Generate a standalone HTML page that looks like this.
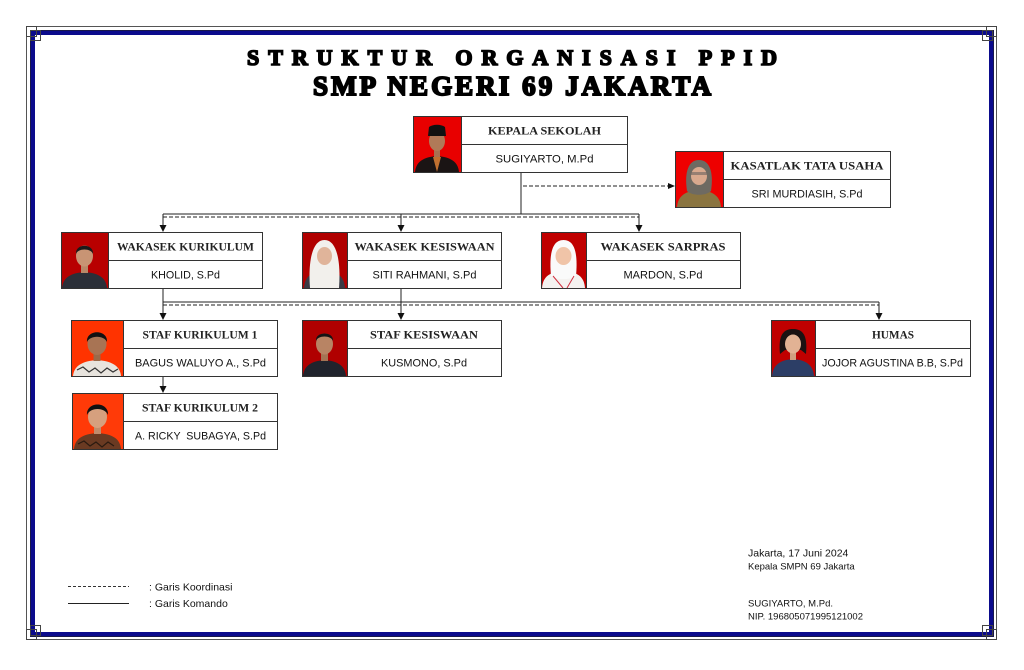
<!DOCTYPE html>
<html><head><meta charset="utf-8"><style>
html,body{margin:0;padding:0;background:#fff;}
svg{display:block;}
.h{font-family:"Liberation Serif",serif;font-weight:bold;font-size:12px;fill:#222;text-anchor:middle;}
.n{font-family:"Liberation Sans",sans-serif;font-size:11px;fill:#111;text-anchor:middle;}
.s{font-family:"Liberation Sans",sans-serif;fill:#111;}
.t{font-family:"Liberation Serif",serif;font-weight:bold;fill:#000;stroke:#000;text-anchor:middle;}
</style></head><body>
<svg width="1024" height="670" viewBox="0 0 1024 670" xmlns="http://www.w3.org/2000/svg">
<rect width="1024" height="670" fill="#fff"/>
<!-- border -->
<rect x="26.5" y="26.5" width="970" height="613" fill="none" stroke="#555" stroke-width="1"/>
<rect x="32.5" y="32.5" width="959" height="602" fill="none" stroke="#0b0b8c" stroke-width="5"/>
<rect x="30.5" y="30.5" width="963" height="606" fill="none" stroke="#222" stroke-width="0.6"/>
<g fill="none" stroke="#444" stroke-width="1">
  <rect x="26.5" y="26.5" width="10" height="10"/><rect x="30.5" y="30.5" width="10" height="10"/>
  <rect x="986.5" y="26.5" width="10" height="10"/><rect x="982.5" y="30.5" width="10" height="10"/>
  <rect x="26.5" y="629.5" width="10" height="10"/><rect x="30.5" y="625.5" width="10" height="10"/>
  <rect x="986.5" y="629.5" width="10" height="10"/><rect x="982.5" y="625.5" width="10" height="10"/>
</g>

<!-- title -->
<text class="t" x="512" y="65" font-size="22" stroke-width="1.6" textLength="530" lengthAdjust="spacing">STRUKTUR  ORGANISASI PPID</text>
<text class="t" x="512" y="95" font-size="27" stroke-width="1.9" textLength="398" lengthAdjust="spacing">SMP  NEGERI  69  JAKARTA</text>

<!-- connectors -->
<g stroke="#222" stroke-width="1" fill="none">
  <line x1="521" y1="172" x2="521" y2="214"/>
  <line x1="523" y1="186" x2="668" y2="186" stroke-dasharray="4,2"/>
  <line x1="163" y1="214" x2="639" y2="214"/>
  <line x1="163" y1="217" x2="639" y2="217" stroke-dasharray="4,2"/>
  <line x1="163" y1="214" x2="163" y2="226"/>
  <line x1="401" y1="214" x2="401" y2="226"/>
  <line x1="639" y1="214" x2="639" y2="226"/>
  <line x1="163" y1="288" x2="163" y2="314"/>
  <line x1="401" y1="288" x2="401" y2="314"/>
  <line x1="163" y1="302" x2="879" y2="302"/>
  <line x1="163" y1="305" x2="879" y2="305" stroke-dasharray="4,2"/>
  <line x1="879" y1="302" x2="879" y2="314"/>
  <line x1="163" y1="376" x2="163" y2="387"/>
</g>
<g fill="#111">
  <path d="M668 183 L675 186 L668 189 Z"/>
  <path d="M159.5 225 L166.5 225 L163 232 Z"/>
  <path d="M397.5 225 L404.5 225 L401 232 Z"/>
  <path d="M635.5 225 L642.5 225 L639 232 Z"/>
  <path d="M159.5 313 L166.5 313 L163 320 Z"/>
  <path d="M397.5 313 L404.5 313 L401 320 Z"/>
  <path d="M875.5 313 L882.5 313 L879 320 Z"/>
  <path d="M159.5 386 L166.5 386 L163 393 Z"/>
</g>

<!-- box frames -->
<g fill="#fff" stroke="#333" stroke-width="1">
  <rect x="461.5" y="116.5" width="166" height="56"/><line x1="461" y1="144.5" x2="628" y2="144.5"/>
  <rect x="723.5" y="151.5" width="167" height="56"/><line x1="723" y1="179.5" x2="891" y2="179.5"/>
  <rect x="108.5" y="232.5" width="154" height="56"/><line x1="108" y1="260.5" x2="263" y2="260.5"/>
  <rect x="347.5" y="232.5" width="154" height="56"/><line x1="347" y1="260.5" x2="502" y2="260.5"/>
  <rect x="586.5" y="232.5" width="154" height="56"/><line x1="586" y1="260.5" x2="741" y2="260.5"/>
  <rect x="123.5" y="320.5" width="154" height="56"/><line x1="123" y1="348.5" x2="278" y2="348.5"/>
  <rect x="347.5" y="320.5" width="154" height="56"/><line x1="347" y1="348.5" x2="502" y2="348.5"/>
  <rect x="815.5" y="320.5" width="155" height="56"/><line x1="815" y1="348.5" x2="971" y2="348.5"/>
  <rect x="123.5" y="393.5" width="154" height="56"/><line x1="123" y1="421.5" x2="278" y2="421.5"/>
</g>

<!-- photos -->
<g transform="translate(413,116)">
  <rect width="48" height="56" fill="#e80000"/>
  <path d="M2 56 C3 46 10 41 24 40 C38 41 45 46 46 56 Z" fill="#1a1414"/>
  <path d="M20 41 L24 56 L28 41 Z" fill="#c07030"/>
  <rect x="21" y="33" width="6" height="8" fill="#a87050"/>
  <ellipse cx="24" cy="25" rx="8" ry="10" fill="#b07a58"/>
  <path d="M15 20 L16 11 C20 8 28 8 32 11 L33 20 Z" fill="#111"/>
</g>
<g transform="translate(675,151)">
  <rect width="48" height="56" fill="#ee0000"/>
  <path d="M2 56 C3 45 10 40 24 39 C38 40 45 45 46 56 Z" fill="#8a7440"/>
  <path d="M12 40 C9 20 14 9 24 9 C34 9 39 20 36 40 C31 45 17 45 12 40 Z" fill="#6e6a62"/>
  <ellipse cx="24" cy="25" rx="8" ry="9" fill="#d9a98e"/>
  <rect x="16" y="21" width="16" height="3" fill="#555" opacity="0.5"/>
</g>
<g transform="translate(61,232)">
  <rect width="47" height="56" fill="#b80000"/>
  <path d="M1 56 C2 46 9 41 23.5 40 C38 41 45 46 46 56 Z" fill="#2b2f38"/>
  <rect x="20" y="33" width="7" height="8" fill="#b88868"/>
  <ellipse cx="23.5" cy="24" rx="8.5" ry="10.5" fill="#c89474"/>
  <path d="M15 22 C14 11 33 11 32 22 C30 16 17 16 15 22 Z" fill="#1a1a1a"/>
</g>
<g transform="translate(302,232)">
  <rect width="45" height="56" fill="#b00000"/>
  <path d="M2 56 C3 44 9 40 22.5 39 C36 40 42 44 43 56 Z" fill="#3a3a44"/>
  <path d="M8 56 C6 30 10 8 22.5 8 C35 8 39 30 37 56 Z" fill="#f2f0ec"/>
  <ellipse cx="22.5" cy="24" rx="7.5" ry="9" fill="#e0b49a"/>
</g>
<g transform="translate(541,232)">
  <rect width="45" height="56" fill="#c00000"/>
  <path d="M1 56 C2 44 9 40 22.5 39 C36 40 43 44 44 56 Z" fill="#f4f2f0"/>
  <path d="M10 44 C8 22 11 8 22.5 8 C34 8 37 22 35 44 C30 48 15 48 10 44 Z" fill="#fafafa"/>
  <ellipse cx="22.5" cy="24" rx="8" ry="9" fill="#f0c4a8"/>
  <path d="M12 44 L22 56 M33 44 L26 56" stroke="#d03040" stroke-width="1" fill="none"/>
</g>
<g transform="translate(71,320)">
  <rect width="52" height="56" fill="#ff3300"/>
  <path d="M2 56 C3 46 11 41 26 40 C41 41 49 46 50 56 Z" fill="#e8e4de"/>
  <path d="M6 50 L12 47 L18 52 L24 48 L30 53 L36 48 L42 52 L47 49" stroke="#333" stroke-width="1.2" fill="none"/>
  <rect x="22.5" y="33" width="7" height="8" fill="#9a6a4a"/>
  <ellipse cx="26" cy="24" rx="9.5" ry="11" fill="#a87454"/>
  <path d="M16 22 C15 9 37 9 36 22 C33 15 19 15 16 22 Z" fill="#111"/>
</g>
<g transform="translate(302,320)">
  <rect width="45" height="56" fill="#b00000"/>
  <path d="M1 56 C2 46 9 41 22.5 40 C36 41 43 46 44 56 Z" fill="#20232c"/>
  <rect x="19" y="33" width="7" height="8" fill="#a47454"/>
  <ellipse cx="22.5" cy="24" rx="8.5" ry="10.5" fill="#b88464"/>
  <path d="M14 21 C13 11 32 11 31 21 C29 15 16 15 14 21 Z" fill="#141414"/>
</g>
<g transform="translate(771,320)">
  <rect width="44" height="56" fill="#c00000"/>
  <path d="M1 56 C2 45 9 40 22 39 C35 40 42 45 43 56 Z" fill="#2c3e66"/>
  <path d="M9 34 C7 14 13 9 22 9 C31 9 37 14 35 34 L30 30 L14 30 Z" fill="#1a1212"/>
  <rect x="19" y="32" width="6" height="8" fill="#d0a080"/>
  <ellipse cx="22" cy="24" rx="8" ry="9.5" fill="#e2b294"/>
</g>
<g transform="translate(72,393)">
  <rect width="51" height="56" fill="#ff3a08"/>
  <path d="M2 56 C3 46 10 41 25.5 40 C41 41 48 46 49 56 Z" fill="#6a3a22"/>
  <path d="M6 51 L12 48 L18 53 L24 49 L30 54 L36 49 L42 53" stroke="#2a1a10" stroke-width="1.2" fill="none"/>
  <rect x="22" y="33" width="7" height="8" fill="#c08c6c"/>
  <ellipse cx="25.5" cy="24" rx="9.5" ry="11" fill="#d6a07e"/>
  <path d="M15 22 C14 8 37 8 36 22 C33 14 18 14 15 22 Z" fill="#111"/>
</g>
<g fill="none" stroke="#333" stroke-width="1">
  <rect x="413.5" y="116.5" width="48" height="56"/>
  <rect x="675.5" y="151.5" width="48" height="56"/>
  <rect x="61.5" y="232.5" width="47" height="56"/>
  <rect x="302.5" y="232.5" width="45" height="56"/>
  <rect x="541.5" y="232.5" width="45" height="56"/>
  <rect x="71.5" y="320.5" width="52" height="56"/>
  <rect x="302.5" y="320.5" width="45" height="56"/>
  <rect x="771.5" y="320.5" width="44" height="56"/>
  <rect x="72.5" y="393.5" width="51" height="56"/>
</g>

<!-- box text -->
<text class="h" x="544.5" y="134.5" textLength="113" lengthAdjust="spacingAndGlyphs">KEPALA SEKOLAH</text>
<text class="n" x="544.5" y="162.5" textLength="98" lengthAdjust="spacingAndGlyphs">SUGIYARTO, M.Pd</text>
<text class="h" x="807" y="169.5" textLength="153" lengthAdjust="spacingAndGlyphs">KASATLAK TATA USAHA</text>
<text class="n" x="807" y="197.5" textLength="111" lengthAdjust="spacingAndGlyphs">SRI MURDIASIH, S.Pd</text>
<text class="h" x="185.5" y="250.5" textLength="137" lengthAdjust="spacingAndGlyphs">WAKASEK KURIKULUM</text>
<text class="n" x="185.5" y="278.5" textLength="69" lengthAdjust="spacingAndGlyphs">KHOLID, S.Pd</text>
<text class="h" x="424.5" y="250.5" textLength="140" lengthAdjust="spacingAndGlyphs">WAKASEK KESISWAAN</text>
<text class="n" x="424.5" y="278.5" textLength="104" lengthAdjust="spacingAndGlyphs">SITI RAHMANI, S.Pd</text>
<text class="h" x="663" y="250.5" textLength="125" lengthAdjust="spacingAndGlyphs">WAKASEK SARPRAS</text>
<text class="n" x="663" y="278.5" textLength="79" lengthAdjust="spacingAndGlyphs">MARDON, S.Pd</text>
<text class="h" x="200" y="338.5" textLength="115" lengthAdjust="spacingAndGlyphs">STAF KURIKULUM 1</text>
<text class="n" x="200.5" y="366.5" textLength="131" lengthAdjust="spacingAndGlyphs">BAGUS WALUYO A., S.Pd</text>
<text class="h" x="424" y="338.5" textLength="108" lengthAdjust="spacingAndGlyphs">STAF KESISWAAN</text>
<text class="n" x="424" y="366.5" textLength="86" lengthAdjust="spacingAndGlyphs">KUSMONO, S.Pd</text>
<text class="h" x="893" y="338.5" textLength="42" lengthAdjust="spacingAndGlyphs">HUMAS</text>
<text class="n" x="892.5" y="366.5" textLength="141" lengthAdjust="spacingAndGlyphs">JOJOR AGUSTINA B.B, S.Pd</text>
<text class="h" x="200" y="411.5" textLength="116" lengthAdjust="spacingAndGlyphs">STAF KURIKULUM 2</text>
<text class="n" x="200.5" y="439.5" xml:space="preserve" textLength="131" lengthAdjust="spacingAndGlyphs">A. RICKY  SUBAGYA, S.Pd</text>

<!-- legend -->
<line x1="68" y1="586.5" x2="129" y2="586.5" stroke="#333" stroke-width="1" stroke-dasharray="3,2"/>
<line x1="68" y1="603.5" x2="129" y2="603.5" stroke="#222" stroke-width="1"/>
<text class="s" x="149" y="590.5" font-size="10.5">: Garis Koordinasi</text>
<text class="s" x="149" y="607" font-size="10.5">: Garis Komando</text>

<!-- signature -->
<text class="s" x="748" y="556.5" font-size="10.5">Jakarta, 17 Juni 2024</text>
<text class="s" x="748" y="569.5" font-size="9.5">Kepala SMPN 69 Jakarta</text>
<text class="s" x="748" y="606.5" font-size="9.5">SUGIYARTO, M.Pd.</text>
<text class="s" x="748" y="619.5" font-size="9.5">NIP. 196805071995121002</text>
</svg>
</body></html>
